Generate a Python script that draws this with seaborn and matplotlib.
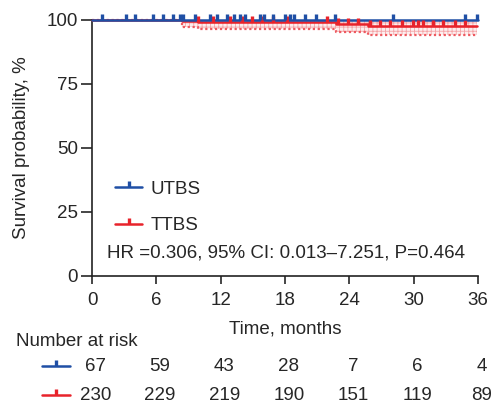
import numpy as np
import pandas as pd
import matplotlib
matplotlib.use("Agg")
import matplotlib.pyplot as plt
import matplotlib.transforms as mtrans
import seaborn as sns
from matplotlib.lines import Line2D

# ---- data ----
groups = ["UTBS", "TTBS"]
colors = {"UTBS": "#1f4fa5", "TTBS": "#e8232b"}

utbs_times = [0, 36.0]
utbs_surv = [100, 100]
utbs_censor = [0.9, 3.2, 4.0, 5.7, 6.6, 7.6, 8.2, 8.5, 9.6, 11.0, 11.7, 12.6, 13.2,
               13.8, 14.3, 15.7, 16.0, 16.9, 18.0, 18.5, 18.8, 19.9, 20.9, 22.7,
               28.1, 34.8, 35.9]

ttbs_times = [0, 8.4, 9.9, 22.8, 25.7, 35.9]
ttbs_surv = [100, 99.6, 99.1, 98.5, 97.8, 97.8]
ttbs_lower = [100, 97.4, 96.5, 95.2, 94.1, 94.1]
ttbs_censor = [9.9, 11.3, 12.9, 14.0, 14.9, 15.9, 16.9, 18.2, 21.9, 22.9, 23.9,
               24.8, 25.9, 26.9, 27.8, 28.9, 29.9, 30.4, 30.9, 31.8, 32.7, 33.9, 34.8]

risk_times = [0, 6, 12, 18, 24, 30, 36]
risk_utbs = [67, 59, 43, 28, 7, 6, 4]
risk_ttbs = [230, 229, 219, 190, 151, 119, 89]

y_ticks = [0, 25, 50, 75, 100]
x_ticks = [0, 6, 12, 18, 24, 30, 36]
hr_text = "HR =0.306, 95% CI: 0.013\u20137.251, P=0.464"

# ---- style ----
sns.set_style("ticks")
plt.rcParams["font.family"] = ["Liberation Sans", "DejaVu Sans"]
plt.rcParams["hatch.linewidth"] = 0.6
FS = 13.5
MS = 4.5
MEW = 2.4

fig = plt.figure(figsize=(4.93, 4.05), dpi=100)
ax = fig.add_axes([92/493, 1-276/405, 386/493, 256/405])

def step_at(times, surv, t):
    idx = np.searchsorted(times, t, side="right") - 1
    return np.asarray(surv)[idx]

# TTBS CI band
ax.fill_between(ttbs_times, ttbs_lower, 100, step="post", facecolor="#fdeeee",
                edgecolor="#f4a5a8", hatch="++++", linewidth=0, zorder=1)
ax.plot(ttbs_times, ttbs_lower, drawstyle="steps-post", color="#ee5a60",
        linestyle=(0, (1, 1.2)), linewidth=1.6, zorder=2)

df_t = pd.DataFrame({"t": ttbs_times, "s": ttbs_surv})
df_u = pd.DataFrame({"t": utbs_times, "s": utbs_surv})
sns.lineplot(data=df_t, x="t", y="s", drawstyle="steps-post", estimator=None,
             color=colors["TTBS"], linewidth=1.8, ax=ax, zorder=3)
sns.lineplot(data=df_u, x="t", y="s", drawstyle="steps-post", estimator=None,
             color=colors["UTBS"], linewidth=1.8, ax=ax, zorder=4)
for ln in ax.lines:
    ln.set_clip_on(False)

ax.plot(ttbs_censor, step_at(ttbs_times, ttbs_surv, ttbs_censor), linestyle="none",
        marker=2, markersize=MS, markeredgewidth=MEW, color=colors["TTBS"],
        clip_on=False, zorder=5)
ax.plot(utbs_censor, step_at(utbs_times, utbs_surv, utbs_censor), linestyle="none",
        marker=2, markersize=MS, markeredgewidth=MEW, color=colors["UTBS"],
        clip_on=False, zorder=6)

ax.set_xlim(0, 36)
ax.set_ylim(0, 100)
ax.set_xticks(x_ticks)
ax.set_yticks(y_ticks)
ax.tick_params(axis="y", length=8, width=1.2, pad=2, labelsize=FS)
ax.tick_params(axis="x", length=5.5, width=1.2, pad=6, labelsize=FS)
for sp in ["top", "right"]:
    ax.spines[sp].set_visible(False)
for sp in ["left", "bottom"]:
    ax.spines[sp].set_linewidth(1.2)
    ax.spines[sp].set_color("#222222")
ax.set_xlabel("Time, months", fontsize=FS, labelpad=8)
ax.set_ylabel("Survival probability, %", fontsize=FS, labelpad=12)

handles = [Line2D([], [], color=colors[g], linewidth=1.8, marker=2, markersize=MS,
                  markeredgewidth=MEW) for g in groups]
ax.legend(handles, groups, loc="upper left", bbox_to_anchor=(0.06, 0.372),
          frameon=False, fontsize=FS, handlelength=1.45, handletextpad=0.45,
          labelspacing=1.02, borderpad=0, borderaxespad=0)
ax.text(1.4, 9.0, hr_text, fontsize=FS, va="center", ha="left")

# number at risk table
ax.text(-0.197, -0.273, "Number at risk", transform=ax.transAxes, fontsize=FS,
        ha="left", va="baseline")
blend = mtrans.blended_transform_factory(ax.transData, ax.transAxes)
rows = [("UTBS", risk_utbs, -0.372), ("TTBS", risk_ttbs, -0.484)]
for g, vals, yy in rows:
    for t, v in zip(risk_times, vals):
        ax.text(t + 0.35, yy, str(v), transform=blend, fontsize=FS,
                ha="center", va="baseline")
    ym = yy + 0.021
    ax.plot([-0.13, -0.057], [ym, ym], transform=ax.transAxes, color=colors[g],
            linewidth=1.8, clip_on=False)
    ax.plot([-0.0935], [ym], transform=ax.transAxes, color=colors[g], marker=2,
            markersize=MS, markeredgewidth=MEW, clip_on=False)

fig.savefig("out.png", dpi=100)
